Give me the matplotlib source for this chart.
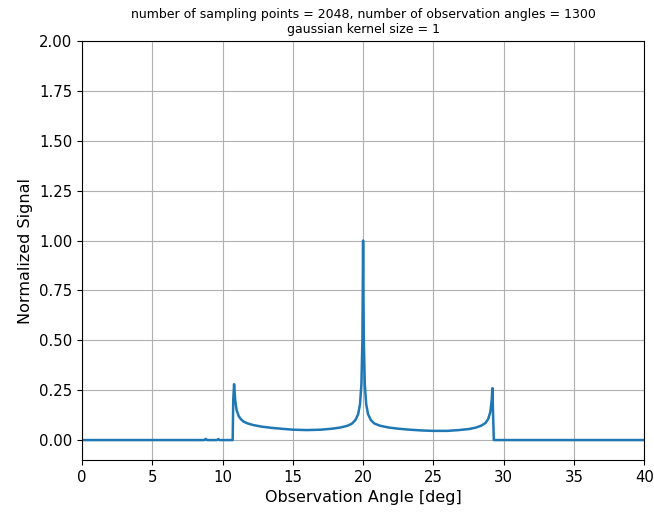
import numpy as np
import matplotlib.pyplot as plt

# valores
angulos = [0.0, 8.7, 8.8, 8.9, 9.6, 9.7, 9.8, 10.72, 10.76, 10.82, 10.9, 11.0, 11.15, 11.3, 11.5,
           11.8, 12.2, 12.8, 13.5, 14.3, 15.0, 16.0, 17.0, 17.8, 18.4, 18.9, 19.2, 19.45,
           19.65, 19.78, 19.88, 19.95, 20.0, 20.05, 20.12, 20.22, 20.35, 20.55, 20.8, 21.2,
           21.8, 22.5, 23.3, 24.2, 25.0, 26.0, 26.8, 27.5, 28.0, 28.4, 28.7, 28.9, 29.05,
           29.15, 29.2, 29.26, 29.3, 40.0]
senal = [0.0, 0.0, 0.006, 0.0, 0.0, 0.005, 0.0, 0.0, 0.20, 0.28, 0.20, 0.15, 0.12, 0.105, 0.092,
         0.083, 0.075, 0.067, 0.061, 0.056, 0.052, 0.050, 0.052, 0.057, 0.063, 0.072, 0.082,
         0.10, 0.13, 0.18, 0.28, 0.50, 1.0, 0.50, 0.28, 0.18, 0.13, 0.10, 0.083, 0.072,
         0.063, 0.057, 0.052, 0.048, 0.046, 0.046, 0.050, 0.055, 0.062, 0.072, 0.085, 0.105, 0.14,
         0.20, 0.26, 0.10, 0.0, 0.0]

titulo = "number of sampling points = 2048, number of observation angles = 1300\ngaussian kernel size = 1"

fig = plt.figure(figsize=(6.54, 5.13), dpi=100)
ax = fig.add_axes([0.1254, 0.1033, 0.8596, 0.8167])
ax.plot(angulos, senal, color="#1f77b4", linewidth=1.8)
ax.set_xlim(0, 40)
ax.set_ylim(-0.1, 2.0)
ax.set_yticks(np.arange(0, 2.01, 0.25))
ax.tick_params(labelsize=10.7)
ax.grid(True)
ax.set_xlabel("Observation Angle [deg]", fontsize=11.5)
ax.set_ylabel("Normalized Signal", fontsize=11.5)
ax.set_title(titulo, fontsize=9)
fig.savefig("out.png", dpi=100)
